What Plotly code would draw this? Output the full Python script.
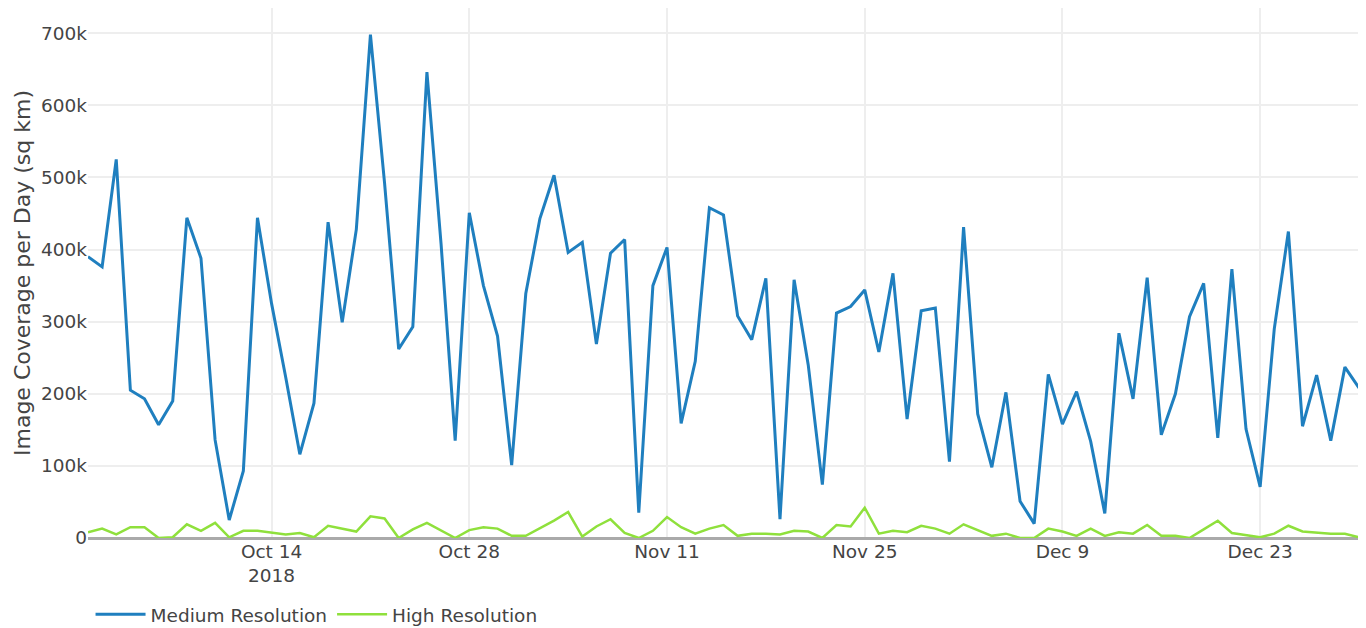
import plotly.graph_objects as go
import pandas as pd

start_date = "2018-10-01"

medium_k = [390, 376, 525, 205, 193, 157, 190, 444, 388, 136,
            25, 93, 444, 325, 223, 116, 187, 438, 299, 428,
            698, 492, 262, 293, 646, 408, 135, 451, 350, 280,
            101, 339, 443, 503, 396, 410, 269, 395, 414, 35,
            350, 403, 159, 245, 458, 448, 308, 275, 360, 26,
            358, 240, 74, 312, 321, 344, 258, 367, 165, 315,
            319, 106, 431, 172, 98, 202, 51, 20, 227, 158,
            203, 134, 34, 284, 193, 361, 143, 200, 307, 353,
            139, 373, 151, 71, 290, 425, 155, 226, 135, 237,
            208]

high_k = [8, 13, 5, 15, 15, 0, 1, 19, 10, 21,
          1, 10, 10, 8, 5, 7, 1, 17, 13, 9,
          30, 27, 0, 12, 21, 11, 0, 11, 15, 13,
          3, 3, 13, 24, 36, 2, 16, 26, 7, 0,
          10, 29, 15, 6, 13, 18, 3, 6, 6, 5,
          10, 9, 0, 18, 16, 42, 6, 10, 8, 17,
          13, 6, 19, 11, 3, 6, 0, 0, 13, 9,
          3, 13, 3, 8, 6, 18, 3, 3, 0, 12,
          24, 7, 4, 1, 6, 17, 9, 7, 6, 6,
          1]

medium = [v * 1000 for v in medium_k]
high = [v * 1000 for v in high_k]
dates = pd.date_range(start_date, periods=len(medium), freq="D")

FONT = "DejaVu Sans, Verdana, sans-serif"

fig = go.Figure()
fig.add_trace(go.Scatter(x=dates, y=medium, mode="lines", name="Medium Resolution",
                         line=dict(color="#1f7fbf", width=3)))
fig.add_trace(go.Scatter(x=dates, y=high, mode="lines", name="High Resolution",
                         line=dict(color="#8fe03c", width=2.5)))

# the page body has an 8px margin, so the figure is sized/offset to fit the window
fig.update_layout(
    width=1358, height=620,
    margin=dict(l=80, r=7, t=0, b=90, autoexpand=False),
    paper_bgcolor="white", plot_bgcolor="white",
    font=dict(family=FONT, color="#444", size=16),
    showlegend=True,
    legend=dict(orientation="h", x=0.002, xanchor="left", y=-0.145, yanchor="middle",
                itemwidth=50,
                font=dict(size=18.5, family=FONT, color="#444")),
    xaxis=dict(showgrid=True, gridcolor="#eeeeee", gridwidth=1.5,
               dtick=14 * 24 * 3600 * 1000, tick0="2018-10-14",
               tickfont=dict(size=18.5, family=FONT, color="#444"),
               showline=False, zeroline=False, automargin=False),
    yaxis=dict(title=dict(text="Image Coverage per Day (sq km)",
                          font=dict(size=22, family=FONT, color="#444"), standoff=4),
               range=[0, 735000], dtick=100000, automargin=False,
               showgrid=True, gridcolor="#eeeeee", gridwidth=1.5,
               zeroline=True, zerolinecolor="#aaaaaa", zerolinewidth=3,
               tickfont=dict(size=18.5, family=FONT, color="#444")),
)

fig.write_html("out.html")
